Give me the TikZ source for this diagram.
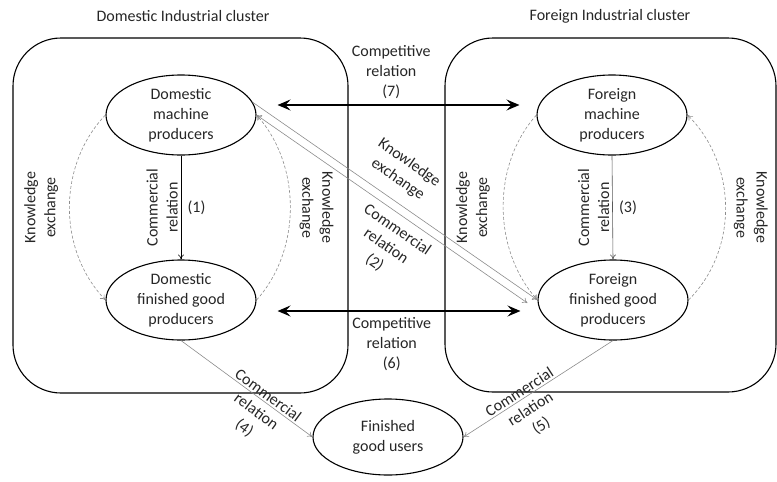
\documentclass[tikz,border=0pt]{standalone}
\usepackage{fontspec}
\setmainfont{Carlito}
\usepackage{tikz}
\usetikzlibrary{shapes.geometric, arrows.meta}

\begin{document}
\begin{tikzpicture}[
                x=1pt, y=-1pt, % pixel-like units, y runs downwards
                >={To[length=5pt,width=6pt]}, % thin arrow tips
                every node/.style={font=\fontsize{16}{20}\selectfont, align=center, text=black!85}, % all texts
                party/.style={ellipse, draw, line width=1.1pt, minimum width=150pt, minimum height=80pt, inner sep=0pt}, % producers and users
                cluster/.style={draw, line width=1.1pt, rounded corners=48pt}, % cluster frames
                rival/.style={{Stealth[length=13pt,width=11pt,inset=5pt]}-{Stealth[length=13pt,width=11pt,inset=5pt]}, line width=2.6pt}, % competitive relation
                trade/.style={->, draw=black!45, line width=0.6pt}, % commercial relation
                learn/.style={->, draw=black!45, densely dashed, line width=0.6pt} % knowledge exchange
                ]
                \useasboundingbox (0,0) rectangle (777,482);

                % clusters
                \draw[cluster] (13,38) rectangle (348,393);
                \draw[cluster] (445,38) rectangle (776,392);
                \node (domtitle) at (183,16) {Domestic Industrial cluster};
                \node (fortitle) at (610,16) {Foreign Industrial cluster};

                % actors
                \node[party] (dm) at (181,115) {Domestic\\machine\\producers};
                \node[party] (df) at (181,300) {Domestic\\finished good\\producers};
                \node[party] (fm) at (612,115) {Foreign\\machine\\producers};
                \node[party] (ff) at (613,300) {Foreign\\finished good\\producers};
                \node[party, minimum height=76pt] (users) at (388,437) {Finished\\good users};

                % competition
                \draw[rival] ([xshift=21pt, yshift=10pt]dm.east) -- node[pos=0.47, above=2pt] {Competitive\\relation\\(7)} ([xshift=-17pt, yshift=10pt]fm.west);
                \draw[rival] ([xshift=21pt, yshift=-11pt]df.east) -- node[pos=0.47, below=2pt] {Competitive\\relation\\(6)} ([xshift=-17pt, yshift=-11pt]ff.west);

                % commercial relations inside clusters
                \draw[trade, draw=black] (dm.south) -- node[rotate=90, anchor=south, inner sep=3pt] {Commercial\\relation} node[right=3pt] {(1)} (df.north);
                \draw[trade, draw=black!65] (fm.south) -- node[rotate=90, anchor=south, inner sep=3pt] {Commercial\\relation} node[right=3pt] {(3)} (ff.north);

                % knowledge exchange inside clusters
                \draw[learn] (dm.west) .. controls +(-48,50) and +(-48,-50) .. node[rotate=90, anchor=south, inner sep=11pt] {Knowledge\\exchange} (df.west);
                \draw[learn] (df.east) .. controls +(45,-50) and +(45,50) .. node[rotate=-90, anchor=south, inner sep=9pt] {Knowledge\\exchange} (dm.east);
                \draw[learn] (fm.west) .. controls +(-45,50) and +(-45,-50) .. node[rotate=90, anchor=south, inner sep=13pt] {Knowledge\\exchange} (ff.west);
                \draw[learn] (ff.east) .. controls +(50,-50) and +(50,50) .. node[rotate=-90, anchor=south, inner sep=8pt] {Knowledge\\exchange} (fm.east);

                % across the clusters
                \draw[trade] (dm.10) -- node[pos=0.47, sloped, above=9pt] {Knowledge\\exchange} (ff.west);
                \draw[trade, <->] (dm.east) -- node[pos=0.55, sloped, below=4pt] {Commercial\\relation\\(2)} ([xshift=-10pt, yshift=-3pt]ff.west);

                % sales to users
                \draw[trade] (df.south) -- node[pos=0.63, sloped, below=-17pt] {Commercial\\relation\\(4)} (users.west);
                \draw[trade, <-] (users.east) -- node[pos=0.4, sloped, below=-17pt] {Commercial\\relation\\(5)} (ff.south);
            \end{tikzpicture}
\end{document}
